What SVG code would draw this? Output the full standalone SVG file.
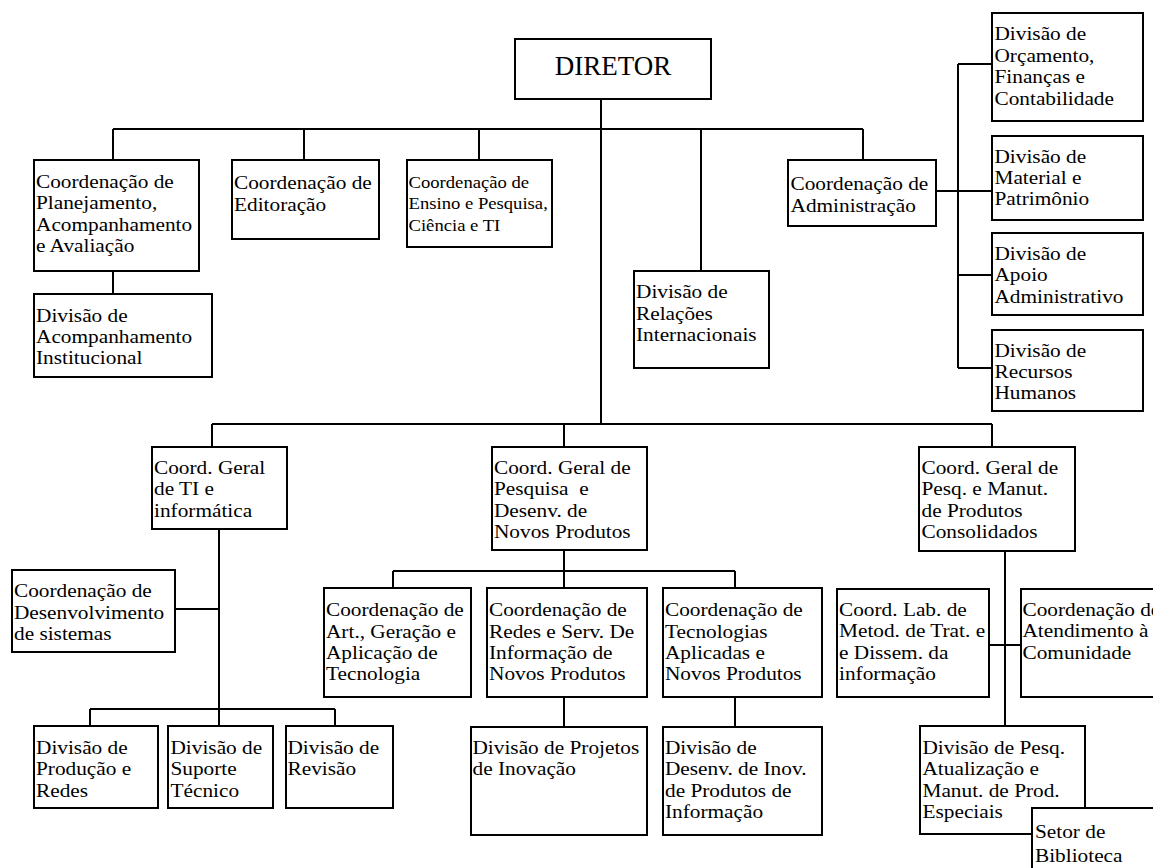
<svg xmlns="http://www.w3.org/2000/svg" width="1153" height="868" viewBox="0 0 1153 868">
  <style>
    .box { fill: #ffffff; stroke: #000000; stroke-width: 2; }
    .wire { fill: none; stroke: #000000; stroke-width: 2; }
    .lbl { font-family: 'Liberation Serif', 'DejaVu Serif', 'Noto Serif', serif; font-size: 19.2px; fill: #000000; }
    .small { font-size: 17.6px; }
    .title { font-size: 27px; }
  </style>
  <rect x="0" y="0" width="1153" height="868" fill="#ffffff"/>

  <!-- connectors -->
  <g id="connectors" class="wire">
    <!-- director trunk and upper bus -->
    <path d="M601 99 V424"/>
    <path d="M113 129 H863"/>
    <path d="M113 129 V160 M304 129 V160 M479 129 V160 M701 129 V271 M863 129 V160"/>
    <path d="M113 271 V294"/>
    <!-- administration branch -->
    <path d="M936 191 H958 M958 64 V368"/>
    <path d="M958 64 H992 M958 191 H992 M958 275 H992 M958 368 H992"/>
    <!-- lower bus -->
    <path d="M212 424 H992"/>
    <path d="M212 424 V447 M564 424 V447 M992 424 V447"/>
    <!-- TI branch -->
    <path d="M219 529 V726"/>
    <path d="M175 609 H219"/>
    <path d="M90 709 H335 M90 709 V726 M335 709 V726"/>
    <!-- research branch -->
    <path d="M564 550 V571 M393 571 H735"/>
    <path d="M393 571 V588 M564 571 V588 M735 571 V588"/>
    <path d="M564 697 V727 M735 697 V727"/>
    <!-- consolidated products branch -->
    <path d="M1005 551 V726"/>
    <path d="M989 645 H1021"/>
  </g>

  <!-- labels are set slightly widened (matrix x-scale) around their left edge -->
  <g id="diretor">
    <rect class="box" x="515" y="39" width="196" height="60"/>
    <text class="lbl title" x="613" y="75" text-anchor="middle">DIRETOR</text>
  </g>

  <g id="coord-planejamento">
    <rect class="box" x="34" y="160" width="165" height="111"/>
    <text class="lbl" transform="matrix(1.11 0 0 1 -3.96 0)"><tspan x="36" y="188">Coordenação de</tspan><tspan x="36" y="209.4">Planejamento,</tspan><tspan x="36" y="230.8">Acompanhamento</tspan><tspan x="36" y="252.2">e Avaliação</tspan></text>
  </g>

  <g id="coord-editoracao">
    <rect class="box" x="232" y="160" width="147" height="79"/>
    <text class="lbl" transform="matrix(1.11 0 0 1 -25.74 0)"><tspan x="234" y="189">Coordenação de</tspan><tspan x="234" y="211">Editoração</tspan></text>
  </g>

  <g id="coord-ensino">
    <rect class="box" x="407" y="160" width="145" height="87"/>
    <text class="lbl small" transform="matrix(1.06 0 0 1 -24.51 0)"><tspan x="408.5" y="188">Coordenação de</tspan><tspan x="408.5" y="209.4">Ensino e Pesquisa,</tspan><tspan x="408.5" y="230.8">Ciência e TI</tspan></text>
  </g>

  <g id="coord-administracao">
    <rect class="box" x="788" y="160" width="148" height="66"/>
    <text class="lbl" transform="matrix(1.11 0 0 1 -86.955 0)"><tspan x="790.5" y="190">Coordenação de</tspan><tspan x="790.5" y="212">Administração</tspan></text>
  </g>

  <g id="div-orcamento">
    <rect class="box" x="992" y="13" width="151" height="108"/>
    <text class="lbl" transform="matrix(1.11 0 0 1 -109.395 0)"><tspan x="994.5" y="40.5">Divisão de</tspan><tspan x="994.5" y="62">Orçamento,</tspan><tspan x="994.5" y="83.5">Finanças e</tspan><tspan x="994.5" y="105">Contabilidade</tspan></text>
  </g>

  <g id="div-material">
    <rect class="box" x="992" y="136" width="151" height="84"/>
    <text class="lbl" transform="matrix(1.11 0 0 1 -109.395 0)"><tspan x="994.5" y="162.7">Divisão de</tspan><tspan x="994.5" y="184">Material e</tspan><tspan x="994.5" y="205.3">Patrimônio</tspan></text>
  </g>

  <g id="div-apoio">
    <rect class="box" x="992" y="233" width="151" height="82"/>
    <text class="lbl" transform="matrix(1.11 0 0 1 -109.395 0)"><tspan x="994.5" y="260">Divisão de</tspan><tspan x="994.5" y="281.5">Apoio</tspan><tspan x="994.5" y="303">Administrativo</tspan></text>
  </g>

  <g id="div-rh">
    <rect class="box" x="992" y="330" width="151" height="81"/>
    <text class="lbl" transform="matrix(1.11 0 0 1 -109.395 0)"><tspan x="994.5" y="356.7">Divisão de</tspan><tspan x="994.5" y="378">Recursos</tspan><tspan x="994.5" y="399.3">Humanos</tspan></text>
  </g>

  <g id="div-relacoes">
    <rect class="box" x="634" y="271" width="135" height="97"/>
    <text class="lbl" transform="matrix(1.11 0 0 1 -69.96 0)"><tspan x="636" y="298.3">Divisão de</tspan><tspan x="636" y="319.6">Relações</tspan><tspan x="636" y="340.9">Internacionais</tspan></text>
  </g>

  <g id="div-acompanhamento">
    <rect class="box" x="34" y="294" width="178" height="83"/>
    <text class="lbl" transform="matrix(1.11 0 0 1 -3.96 0)"><tspan x="36" y="321.7">Divisão de</tspan><tspan x="36" y="343">Acompanhamento</tspan><tspan x="36" y="364.3">Institucional</tspan></text>
  </g>

  <g id="cg-ti">
    <rect class="box" x="152" y="447" width="135" height="82"/>
    <text class="lbl" transform="matrix(1.11 0 0 1 -16.94 0)"><tspan x="154" y="474">Coord. Geral</tspan><tspan x="154" y="495.3">de TI e</tspan><tspan x="154" y="516.6">informática</tspan></text>
  </g>

  <g id="cg-pesquisa">
    <rect class="box" x="492" y="447" width="155" height="103"/>
    <text class="lbl" xml:space="preserve" transform="matrix(1.11 0 0 1 -54.34 0)"><tspan x="494" y="474">Coord. Geral de</tspan><tspan x="494" y="495.3">Pesquisa  e</tspan><tspan x="494" y="516.6">Desenv. de</tspan><tspan x="494" y="537.9">Novos Produtos</tspan></text>
  </g>

  <g id="cg-consolidados">
    <rect class="box" x="919" y="447" width="156" height="104"/>
    <text class="lbl" transform="matrix(1.11 0 0 1 -101.365 0)"><tspan x="921.5" y="474">Coord. Geral de</tspan><tspan x="921.5" y="495.3">Pesq. e Manut.</tspan><tspan x="921.5" y="516.6">de Produtos</tspan><tspan x="921.5" y="537.9">Consolidados</tspan></text>
  </g>

  <g id="coord-desenvolvimento">
    <rect class="box" x="12" y="570" width="163" height="82"/>
    <text class="lbl" transform="matrix(1.11 0 0 1 -1.54 0)"><tspan x="14" y="597.3">Coordenação de</tspan><tspan x="14" y="618.6">Desenvolvimento</tspan><tspan x="14" y="639.9">de sistemas</tspan></text>
  </g>

  <g id="coord-art">
    <rect class="box" x="324" y="588" width="147" height="109"/>
    <text class="lbl" transform="matrix(1.11 0 0 1 -35.86 0)"><tspan x="326" y="616.5">Coordenação de</tspan><tspan x="326" y="637.8">Art., Geração e</tspan><tspan x="326" y="659.1">Aplicação de</tspan><tspan x="326" y="680.4">Tecnologia</tspan></text>
  </g>

  <g id="coord-redes">
    <rect class="box" x="487" y="588" width="160" height="109"/>
    <text class="lbl" transform="matrix(1.11 0 0 1 -53.79 0)"><tspan x="489" y="616.5">Coordenação de</tspan><tspan x="489" y="637.8">Redes e Serv. De</tspan><tspan x="489" y="659.1">Informação de</tspan><tspan x="489" y="680.4">Novos Produtos</tspan></text>
  </g>

  <g id="coord-tecnologias">
    <rect class="box" x="663" y="588" width="159" height="109"/>
    <text class="lbl" transform="matrix(1.11 0 0 1 -73.15 0)"><tspan x="665" y="616.5">Coordenação de</tspan><tspan x="665" y="637.8">Tecnologias</tspan><tspan x="665" y="659.1">Aplicadas e</tspan><tspan x="665" y="680.4">Novos Produtos</tspan></text>
  </g>

  <g id="coord-lab">
    <rect class="box" x="837" y="589" width="152" height="108"/>
    <text class="lbl" transform="matrix(1.11 0 0 1 -92.29 0)"><tspan x="839" y="616">Coord. Lab. de</tspan><tspan x="839" y="637.3">Metod. de Trat. e</tspan><tspan x="839" y="658.6">e Dissem. da</tspan><tspan x="839" y="679.9">informação</tspan></text>
  </g>

  <g id="coord-atendimento">
    <rect class="box" x="1021" y="589" width="140" height="108"/>
    <text class="lbl" transform="matrix(1.11 0 0 1 -112.475 0)"><tspan x="1022.5" y="616">Coordenação de</tspan><tspan x="1022.5" y="637.3">Atendimento à</tspan><tspan x="1022.5" y="658.6">Comunidade</tspan></text>
  </g>

  <g id="div-producao">
    <rect class="box" x="34" y="726" width="124" height="82"/>
    <text class="lbl" transform="matrix(1.11 0 0 1 -3.96 0)"><tspan x="36" y="754">Divisão de</tspan><tspan x="36" y="775.3">Produção e</tspan><tspan x="36" y="796.6">Redes</tspan></text>
  </g>

  <g id="div-suporte">
    <rect class="box" x="168" y="726" width="105" height="82"/>
    <text class="lbl" transform="matrix(1.11 0 0 1 -18.755 0)"><tspan x="170.5" y="754">Divisão de</tspan><tspan x="170.5" y="775.3">Suporte</tspan><tspan x="170.5" y="796.6">Técnico</tspan></text>
  </g>

  <g id="div-revisao">
    <rect class="box" x="286" y="726" width="107" height="82"/>
    <text class="lbl" transform="matrix(1.11 0 0 1 -31.625 0)"><tspan x="287.5" y="754">Divisão de</tspan><tspan x="287.5" y="775.3">Revisão</tspan></text>
  </g>

  <g id="div-projetos">
    <rect class="box" x="471" y="727" width="176" height="108"/>
    <text class="lbl" transform="matrix(1.11 0 0 1 -51.975 0)"><tspan x="472.5" y="754">Divisão de Projetos</tspan><tspan x="472.5" y="775.3">de Inovação</tspan></text>
  </g>

  <g id="div-desenv-inov">
    <rect class="box" x="663" y="727" width="159" height="108"/>
    <text class="lbl" transform="matrix(1.11 0 0 1 -73.15 0)"><tspan x="665" y="754">Divisão de</tspan><tspan x="665" y="775.3">Desenv. de Inov.</tspan><tspan x="665" y="796.6">de Produtos de</tspan><tspan x="665" y="817.9">Informação</tspan></text>
  </g>

  <g id="div-pesq-especiais">
    <rect class="box" x="920" y="726" width="165" height="108"/>
    <text class="lbl" transform="matrix(1.11 0 0 1 -101.475 0)"><tspan x="922.5" y="754">Divisão de Pesq.</tspan><tspan x="922.5" y="775.3">Atualização e</tspan><tspan x="922.5" y="796.6">Manut. de Prod.</tspan><tspan x="922.5" y="817.9">Especiais</tspan></text>
  </g>

  <g id="setor-biblioteca">
    <rect class="box" x="1032" y="808" width="130" height="70"/>
    <text class="lbl" transform="matrix(1.11 0 0 1 -113.85 0)"><tspan x="1035" y="838.3">Setor de</tspan><tspan x="1035" y="862.5">Biblioteca</tspan></text>
  </g>
</svg>
